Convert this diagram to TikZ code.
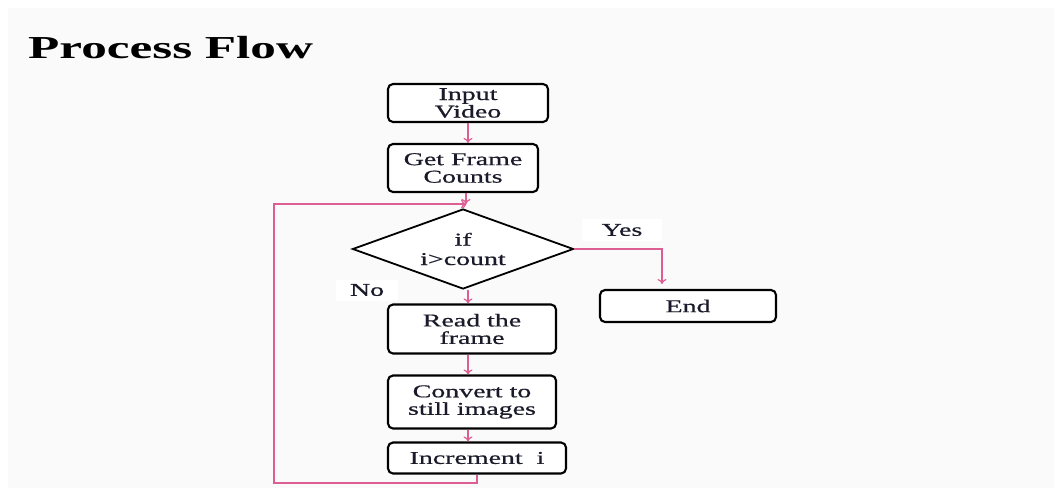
\documentclass[tikz,border=0pt]{standalone}
\usepackage{fontspec}
\setmainfont{Liberation Serif}
\newfontfamily\boxfont[FakeStretch=1.55,FakeBold=0.6]{Liberation Serif}
\newfontfamily\titlefont[FakeStretch=1.6]{Liberation Serif}
\usetikzlibrary{shapes.geometric,arrows.meta}
\definecolor{pinkline}{HTML}{DC5E93}
\definecolor{txt}{HTML}{1A1A2A}
\definecolor{bgc}{HTML}{FAFAFA}
\tikzset{
  box/.style={draw=black, line width=2.1pt, rounded corners=5pt, fill=white, align=center, text=txt, font=\boxfont\fontsize{18}{17.5}\selectfont, inner sep=0pt},
  dia/.style={draw=black, line width=1.8pt, diamond, fill=white, align=center, text=txt, font=\boxfont\fontsize{18}{17.5}\selectfont, aspect=2.75, inner sep=0pt},
  conn/.style={draw=pinkline, line width=1.2pt, -{To[length=5pt,width=9pt]}},
  lbl/.style={fill=white, text=txt, font=\boxfont\fontsize{18}{17.5}\selectfont, inner sep=0pt}
}
\begin{document}
\begin{tikzpicture}[x=1pt,y=-1pt]
\useasboundingbox (0,0) rectangle (1054,488);
\fill[bgc] (8,8) rectangle (1054,488);
\node[anchor=base west, inner sep=0pt, font=\titlefont\bfseries\fontsize{32}{36}\selectfont] (title) at (28,58) {Process Flow};
\node[box, minimum width=160pt, minimum height=38pt] (input) at (468,103) {Input\\Video};
\node[box, minimum width=150pt, minimum height=48pt] (count) at (463,168) {Get Frame\\Counts};
\node[dia, minimum width=221pt, minimum height=80pt] (cond) at (463,249) {if\\[2pt]i>count};
\node[box, minimum width=176pt, minimum height=32pt] (endn) at (688,306) {End};
\node[box, minimum width=168pt, minimum height=49pt] (read) at (472,329) {Read the\\frame};
\node[box, minimum width=168pt, minimum height=53pt] (conv) at (472,402) {Convert to\\still images};
\node[box, minimum width=178pt, minimum height=31pt] (incr) at (477,458) {Increment~~i};
\coordinate (loopin) at (466,204);
\coordinate (yesc) at (662,249);
\coordinate (yesend) at (662,284);
\coordinate (lb) at (477,483);
\coordinate (lbl) at (274,483);
\coordinate (ltl) at (274,204);
\node[lbl, minimum width=80pt, minimum height=22pt] (yes) at (622,230) {Yes};
\node[lbl, minimum width=62pt, minimum height=21pt] (no) at (367,290) {No};
\draw[conn] (input.south -| 468,0) -- (count.north -| 468,0);
\draw[conn] (count.south -| 466,0) -- (loopin);
\draw[draw=pinkline, line width=1.2pt] (loopin) -- (cond.north);
\draw[conn] (incr.south -| lb) -- (lb) -- (lbl) -- (ltl) -- (loopin);
\draw[conn] (cond.east) -- (yesc) -- (yesend);
\draw[conn] (cond.south -| 468,0) -- (read.north -| 468,0);
\draw[conn] (read.south -| 468,0) -- (conv.north -| 468,0);
\draw[conn] (conv.south -| 468,0) -- (incr.north -| 468,0);
\end{tikzpicture}
\end{document}
